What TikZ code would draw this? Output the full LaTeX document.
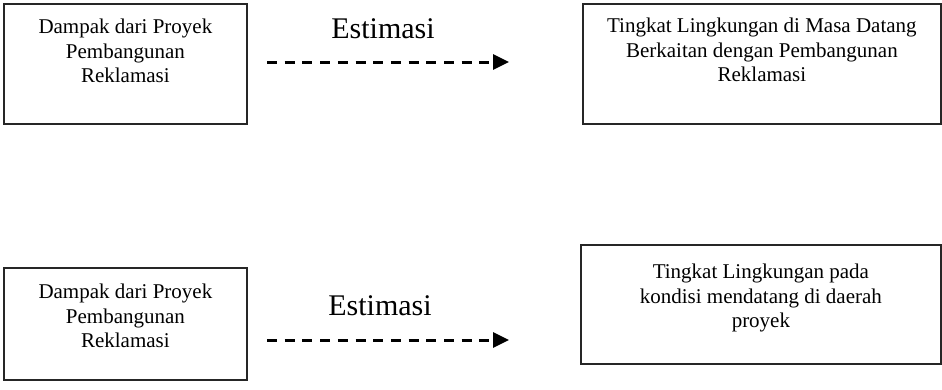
\documentclass[tikz,border=0pt]{standalone}
\usepackage{fontspec}
\setmainfont{Liberation Serif}
\usetikzlibrary{arrows.meta}
\begin{document}
\begin{tikzpicture}[x=1pt,y=-1pt,
  box/.style={draw=black!85, line width=1.8pt, rectangle, inner sep=0pt, anchor=north west},
  boxtext/.style={anchor=north, inner sep=0pt, align=center,
    font=\fontsize{21}{24.5}\selectfont},
  estlabel/.style={anchor=base, inner sep=0pt, font=\fontsize{30}{35}\selectfont},
  estarrow/.style={line width=3pt, dash pattern=on 10pt off 7.7pt,
    -{Triangle[length=16pt,width=15pt]}}]
\useasboundingbox (0,0) rectangle (942,389);

% upper row
\node[box, minimum width=243pt, minimum height=120pt] (b1) at (3,3) {};
\node[boxtext] (t1) at ([yshift=-16pt]b1.north) {Dampak dari Proyek\\Pembangunan\\Reklamasi};
\node[box, minimum width=358pt, minimum height=120pt] (b2) at (582,3) {};
\node[boxtext] (t2) at ([yshift=-15pt]b2.north) {Tingkat Lingkungan di Masa Datang\\Berkaitan dengan Pembangunan\\Reklamasi};
\node[estlabel] (e1) at (383,38) {Estimasi};
\coordinate (a1s) at (267,62);
\coordinate (a1e) at (509,62);
\draw[estarrow] (a1s) -- (a1e);

% lower row
\node[box, minimum width=243pt, minimum height=112pt] (b3) at (3,267) {};
\node[boxtext] (t3) at ([yshift=-17pt]b3.north) {Dampak dari Proyek\\Pembangunan\\Reklamasi};
\node[box, minimum width=360pt, minimum height=119pt] (b4) at (580,244) {};
\node[boxtext] (t4) at ([yshift=-20pt]b4.north) {Tingkat Lingkungan pada\\kondisi mendatang di daerah\\proyek};
\node[estlabel] (e2) at (380,315) {Estimasi};
\coordinate (a2s) at (267,340);
\coordinate (a2e) at (509,340);
\draw[estarrow] (a2s) -- (a2e);
\end{tikzpicture}
\end{document}
